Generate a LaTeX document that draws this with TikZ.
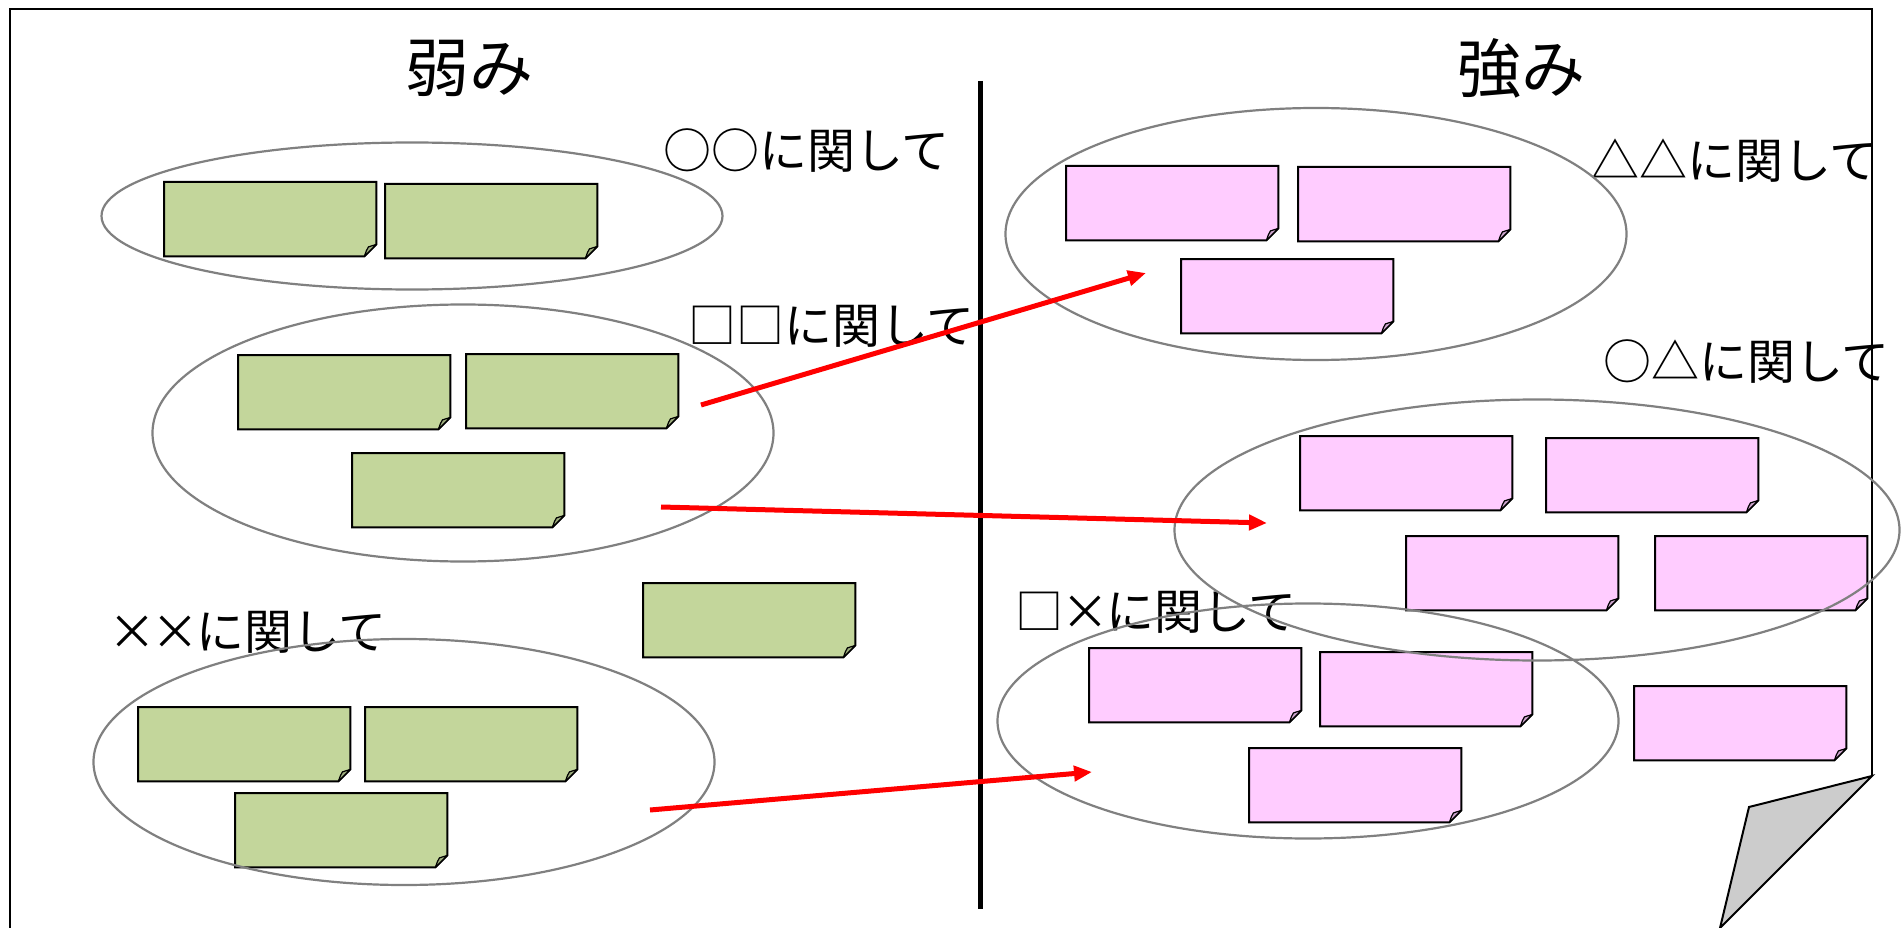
\documentclass[tikz,border=0pt]{standalone}
\usepackage{fontspec}
\setmainfont{Noto Sans CJK JP}
\usetikzlibrary{arrows.meta,shapes.geometric}
\definecolor{notegreen}{HTML}{C3D69B}
\definecolor{flapgreen}{HTML}{9CAB7C}
\definecolor{notepink}{HTML}{FFCCFF}
\definecolor{flappink}{HTML}{CCA3CC}
\definecolor{ringgray}{HTML}{808080}
\definecolor{foldgray}{HTML}{CCCCCC}
\tikzset{
  notebox/.style={minimum width=212pt, minimum height=74pt, inner sep=0pt, anchor=north west},
  group/.style={ellipse, draw=ringgray, line width=2.2pt, inner sep=0pt},
  lbl/.style={anchor=west, inner sep=0pt, font=\fontsize{48pt}{52pt}\selectfont},
  ttl/.style={inner sep=0pt, font=\fontsize{64pt}{68pt}\selectfont},
  link/.style={draw=red, line width=5pt, -{Triangle[length=18pt,width=15pt]}},
}
\newcommand\narrowx{\kern-2pt×\kern-3pt}
\newcommand\stickynote[4]{%
  \node[notebox] (#1) at (#3,#4) {};
  \draw[fill=note#2, line width=2pt, line join=miter]
    (#1.north west) -- (#1.north east) -- ([yshift=12pt]#1.south east)
    -- ([xshift=-12pt]#1.south east) -- (#1.south west) -- cycle;
  \draw[fill=flap#2, line width=1.2pt, line join=round]
    ([yshift=12pt]#1.south east) -- ([xshift=-8pt,yshift=9.5pt]#1.south east)
    .. controls ([xshift=-10pt,yshift=6pt]#1.south east) .. ([xshift=-12pt]#1.south east) -- cycle;
}
\begin{document}
\begin{tikzpicture}[x=1pt,y=-1pt]
\useasboundingbox (0,0) rectangle (1901,928);
\clip (0,0) rectangle (1901,928);
\fill[white] (0,0) rectangle (1901,928);

% divider
\coordinate (dtop) at (980,81);
\coordinate (dbot) at (980,909);
\draw[line width=5pt] (dtop) -- (dbot);

% titles
\node[ttl] (weak) at (469,68) {弱み};
\node[ttl] (strong) at (1521,68) {強み};

% green notes
\stickynote{g1}{green}{164}{182}
\stickynote{g2}{green}{385}{184}
\stickynote{g3}{green}{238}{355}
\stickynote{g4}{green}{466}{354}
\stickynote{g5}{green}{352}{453}
\stickynote{g6}{green}{643}{583}
\stickynote{g7}{green}{138}{707}
\stickynote{g8}{green}{365}{707}
\stickynote{g9}{green}{235}{793}

% pink notes
\stickynote{p1}{pink}{1066}{166}
\stickynote{p2}{pink}{1298}{167}
\stickynote{p3}{pink}{1181}{259}
\stickynote{p4}{pink}{1300}{436}
\stickynote{p5}{pink}{1546}{438}
\stickynote{p6}{pink}{1406}{536}
\stickynote{p7}{pink}{1655}{536}
\stickynote{p8}{pink}{1089}{648}
\stickynote{p9}{pink}{1320}{652}
\stickynote{p10}{pink}{1634}{686}
\stickynote{p11}{pink}{1249}{748}

% labels
\node[lbl] (l1) at (663,151) {○○に関して};
\node[lbl] (l2) at (688,326) {□□に関して};
\node[lbl] (l3) at (110,632) {\narrowx\narrowx に関して};
\node[lbl] (l4) at (1591,161) {△△に関して};
\node[lbl] (l5) at (1603,362) {○△に関して};
\node[lbl] (l6) at (1015,612) {□\narrowx に関して};

% page outline with folded corner
\coordinate (pbl) at (10,940);
\coordinate (ptl) at (10,9);
\coordinate (ptr) at (1872,9);
\coordinate (pcr) at (1872,776);
\coordinate (pfold) at (1749,807);
\coordinate (pfb) at (1720,928);
\draw[line width=2pt] (pbl) -- (ptl) -- (ptr) -- (pcr);
\draw[fill=foldgray, line width=2pt, line join=miter] (pcr) -- (pfold) -- (pfb) -- cycle;

% groups
\node[group, minimum width=621pt, minimum height=147pt] (e1) at (412,216) {};
\node[group, minimum width=621pt, minimum height=257pt] (e2) at (463,433) {};
\node[group, minimum width=621pt, minimum height=246pt] (e3) at (404,762) {};
\node[group, minimum width=621pt, minimum height=252pt] (e4) at (1316,234) {};
\node[group, minimum width=725pt, minimum height=261pt] (e5) at (1537,530) {};
\node[group, minimum width=621pt, minimum height=235pt] (e6) at (1308,721) {};

% arrows
\coordinate (a1s) at (701,405);
\coordinate (a1e) at (1146,273);
\coordinate (a2s) at (661,507);
\coordinate (a2e) at (1267,523);
\coordinate (a3s) at (650,810);
\coordinate (a3e) at (1092,772);
\draw[link] (a1s) -- (a1e);
\draw[link] (a2s) -- (a2e);
\draw[link] (a3s) -- (a3e);
\end{tikzpicture}
\end{document}
